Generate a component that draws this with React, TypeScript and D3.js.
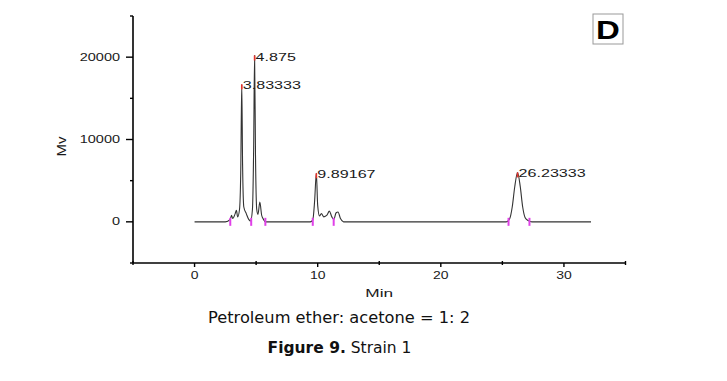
import React from "react";
import * as d3 from "d3";

const W = 727;
const H = 381;

// chromatogram trace (time in min, signal in mV)
const traceTime = [
  0, 2.5, 2.9, 3.0, 3.1, 3.3, 3.4, 3.5, 3.65, 3.75, 3.83333, 3.9, 4.0, 4.2, 4.4, 4.55, 4.7, 4.8, 4.875, 4.95, 5.05, 5.15, 5.3, 5.45, 5.6, 5.75,
  9.4, 9.6, 9.75, 9.89167, 10.0, 10.15, 10.3, 10.5, 10.75, 10.95, 11.15, 11.3, 11.5, 11.65, 11.85, 12.1,
  25.3, 25.6, 25.8, 26.0, 26.23333, 26.45, 26.65, 26.85, 27.1, 27.4, 32.2,
];
const traceValue = [
  0, 0, 300, 800, 400, 1000, 1400, 600, 1500, 6000, 16700, 7000, 1800, 1000, 300, 100, 1500, 9000, 20200, 8000, 1500, 900, 2400, 800, 300, 0,
  0, 200, 2500, 5900, 2000, 700, 1000, 600, 800, 1300, 600, 300, 1100, 1200, 400, 0,
  0, 400, 1800, 4200, 6000, 4300, 1800, 500, 150, 0, 0,
];

const peakTimes = [3.83333, 4.875, 9.89167, 26.23333];
const peakValues = [16700, 20200, 5900, 6000];
const peakLabels = ["3.83333", "4.875", "9.89167", "26.23333"];

const markerTimes = [2.9, 4.6, 5.75, 9.6, 11.3, 25.5, 27.2];

const xTicks = [0, 10, 20, 30];
const xMinorTicks = [-5, 5, 15, 25, 35];
const yTicks = [0, 10000, 20000];
const yMinorTicks = [-5000, 5000, 15000, 25000];

const xLabel = "Min";
const yLabel = "Mv";
const panelLetter = "D";
const captionLine = "Petroleum ether: acetone = 1: 2";
const captionBold = "Figure 9.";
const captionRest = " Strain 1";

export default function App() {
  const x = d3.scaleLinear().domain([-5, 35]).range([133, 625.5]);
  const y = d3.scaleLinear().domain([-5000, 25000]).range([263, 16]);

  const pts = traceTime.map((t, i) => [t, traceValue[i]] as [number, number]);
  const line = d3
    .line<[number, number]>()
    .x((d) => x(d[0]))
    .y((d) => y(d[1]))
    .curve(d3.curveMonotoneX);

  const font = "'Liberation Sans', Arial, sans-serif";
  const x0 = x.range()[0];
  const yb = y.range()[0];

  return (
    <svg
      width={W}
      height={H}
      style={{ position: "absolute", left: 0, top: 0, background: "#fff" }}
    >
      <rect x={0} y={0} width={W} height={H} fill="#fff" />
      {/* trace */}
      <path d={line(pts) || ""} fill="none" stroke="#333" strokeWidth={1.1} />
      {/* peak tops in red */}
      {peakTimes.map((t, i) => (
        <line
          key={"pr" + i}
          x1={x(t)}
          x2={x(t)}
          y1={y(peakValues[i])}
          y2={y(peakValues[i]) + 5}
          stroke="#e8302a"
          strokeWidth={1.6}
        />
      ))}
      {/* integration markers */}
      {markerTimes.map((t, i) => (
        <line
          key={"mk" + i}
          x1={x(t)}
          x2={x(t)}
          y1={y(0) - 4}
          y2={y(0) + 4}
          stroke="#e040e8"
          strokeWidth={2}
        />
      ))}
      {/* peak labels */}
      {peakTimes.map((t, i) => (
        <text
          key={"pl" + i}
          transform={`translate(${x(t) + 1},${y(peakValues[i]) + 5}) scale(1.4,1)`}
          fontFamily={font}
          fontSize={11.5}
          fill="#1a1a1a"
        >
          {peakLabels[i]}
        </text>
      ))}
      {/* axes */}
      <line x1={x0} x2={x0} y1={y.range()[1]} y2={yb} stroke="#000" strokeWidth={1.6} />
      <line x1={x0} x2={x.range()[1]} y1={yb} y2={yb} stroke="#000" strokeWidth={1.6} />
      {yTicks.map((v) => (
        <g key={"yt" + v}>
          <line x1={x0 - 7} x2={x0} y1={y(v)} y2={y(v)} stroke="#000" strokeWidth={1.4} />
          <text
            transform={`translate(${x0 - 13},${y(v) + 3.5}) scale(1.45,1)`}
            textAnchor="end"
            fontFamily={font}
            fontSize={10}
            fill="#1a1a1a"
          >
            {v}
          </text>
        </g>
      ))}
      {yMinorTicks.map((v) => (
        <line key={"ym" + v} x1={x0 - 3} x2={x0} y1={y(v)} y2={y(v)} stroke="#000" strokeWidth={1.4} />
      ))}
      {xTicks.map((v) => (
        <g key={"xt" + v}>
          <line x1={x(v)} x2={x(v)} y1={yb} y2={yb + 4} stroke="#000" strokeWidth={1.4} />
          <text
            transform={`translate(${x(v)},${yb + 16}) scale(1.4,1)`}
            textAnchor="middle"
            fontFamily={font}
            fontSize={10}
            fill="#1a1a1a"
          >
            {v}
          </text>
        </g>
      ))}
      {xMinorTicks.map((v) => (
        <line key={"xm" + v} x1={x(v)} x2={x(v)} y1={yb - 2} y2={yb + 2} stroke="#000" strokeWidth={1.4} />
      ))}
      <text
        transform={`translate(${(x.range()[0] + x.range()[1]) / 2},${yb + 34}) scale(1.5,1)`}
        textAnchor="middle"
        fontFamily={font}
        fontSize={11.5}
        fill="#1a1a1a"
      >
        {xLabel}
      </text>
      <text
        transform={`translate(66,${(y.range()[0] + y.range()[1]) / 2 + 7}) rotate(-90) scale(1.15,1)`}
        textAnchor="middle"
        fontFamily={font}
        fontSize={13}
        fill="#1a1a1a"
      >
        {yLabel}
      </text>
      {/* panel letter */}
      <rect x={593} y={14} width={30} height={30} fill="#fff" stroke="#999" strokeWidth={1} />
      <text
        transform="translate(608,38.5) scale(1.32,1)"
        textAnchor="middle"
        fontFamily={font}
        fontWeight="bold"
        fontSize={25}
        fill="#000"
      >
        {panelLetter}
      </text>
      {/* caption */}
      <text
        x={339}
        y={323}
        textAnchor="middle"
        fontFamily="'DejaVu Sans', Verdana, sans-serif"
        fontSize={15.5}
        textLength={262}
        lengthAdjust="spacingAndGlyphs"
        fill="#111"
      >
        {captionLine}
      </text>
      <text
        x={339.5}
        y={353}
        textAnchor="middle"
        fontFamily="'DejaVu Sans', Verdana, sans-serif"
        fontSize={15.5}
        fill="#111"
      >
        <tspan fontWeight="bold">{captionBold}</tspan>
        <tspan>{captionRest}</tspan>
      </text>
    </svg>
  );
}
